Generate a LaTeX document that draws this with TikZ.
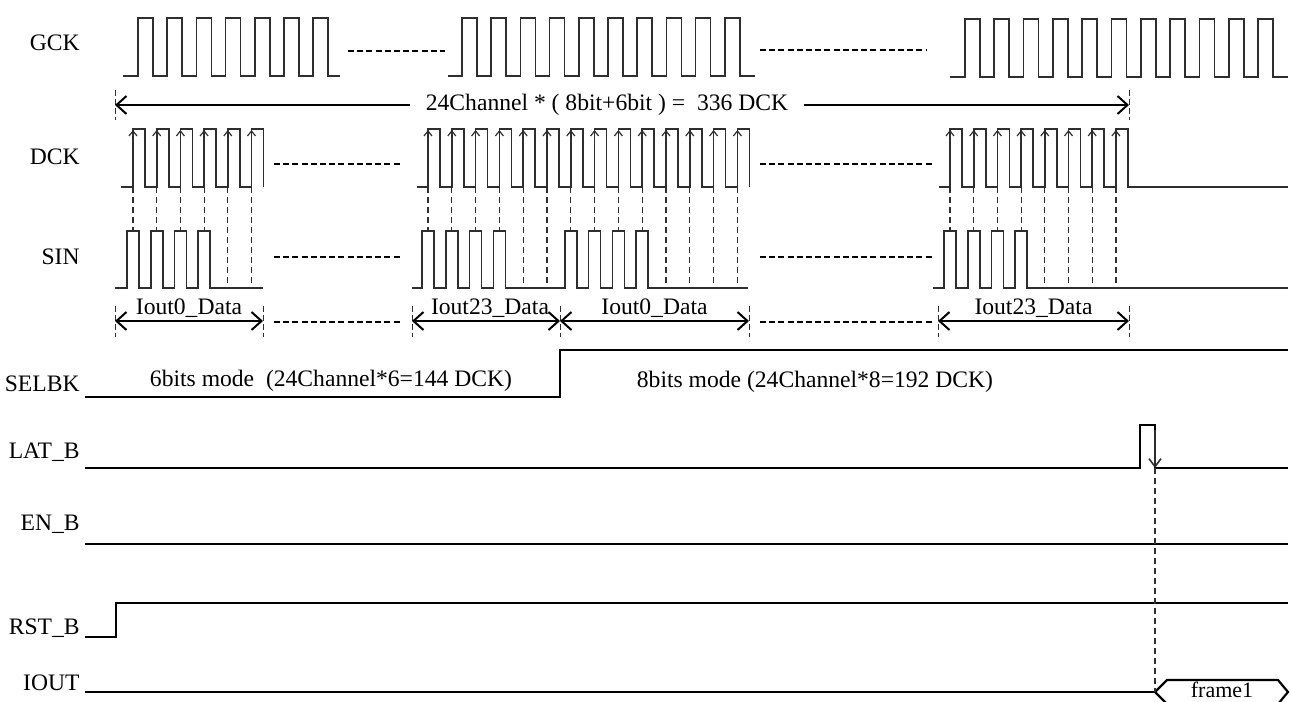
\documentclass[tikz,border=0pt]{standalone}
\usepackage{fontspec}
\setmainfont{Liberation Serif}
\usepackage{tikz}
\usetikzlibrary{arrows.meta}
\definecolor{Wave}{HTML}{2E2E2E}

\tikzset{
        wave/.style={draw=Wave, line width=0.85pt},
        level/.style={draw=black, line width=1.1pt},
        gap/.style={draw=black, line width=0.9pt, dash pattern=on 3pt off 1.6pt},
        sample/.style={draw=Wave, line width=0.6pt, dash pattern=on 3pt off 2pt},
        tick/.style={draw=Wave, line width=0.5pt, dash pattern=on 3pt off 1.5pt},
        span/.style={draw=black, line width=1pt, {Straight Barb[length=5pt,width=9pt]}-{Straight Barb[length=5pt,width=9pt]}},
        rise/.style={draw=Wave, line width=0.6pt, -{Straight Barb[length=2.5pt,width=4pt]}},
        sig/.style={anchor=east, inner sep=0pt, font=\fontsize{11.8}{14}\selectfont},
        txt/.style={inner sep=1pt, font=\fontsize{11.8}{14}\selectfont},
}

\begin{document}
\begin{tikzpicture}[x=0.5pt, y=-0.5pt]
        \useasboundingbox (0,0) rectangle (1292,702);

        % signal names
        \node[sig] (gck) at (80,43) {GCK};
        \node[sig] (dck) at (80,157) {DCK};
        \node[sig] (sin) at (80,257) {SIN};
        \node[sig] (selbk) at (80,384) {SELBK};
        \node[sig] (latb) at (80,452) {LAT\_B};
        \node[sig] (enb) at (80,524) {EN\_B};
        \node[sig] (rstb) at (80,628) {RST\_B};
        \node[sig] (iout) at (80,683) {IOUT};

        % GCK
        \draw[wave] (123,76) \foreach \i in {0,...,6} {-- ({138+29.2*\i},76) -- ++(0,-58) -- ++(15,0) -- ++(0,58)} -- (340,76);
        \draw[wave] (448,76) \foreach \i in {0,...,9} {-- ({462+29.2*\i},76) -- ++(0,-58) -- ++(15,0) -- ++(0,58)} -- (755,76);
        \draw[wave] (950,77) \foreach \i in {0,...,10} {-- ({965+29.3*\i},77) -- ++(0,-58) -- ++(15,0) -- ++(0,58)} -- (1288,77);
        \draw[gap] (348,51) -- (445,51);
        \draw[gap] (760,50) -- (927,50);

        % total length
        \coordinate (tl) at (115,105);
        \coordinate (tr) at (1129,105);
        \draw[tick] (115,90) -- (115,120);
        \draw[tick] (1129,90) -- (1129,120);
        \draw[span] (tl) -- (tr);
        \node[txt, fill=white, inner xsep=8pt] (total) at (607,105) {24Channel * ( 8bit+6bit ) =\ \ 336 DCK};

        % DCK
        \draw[wave] (121,187) \foreach \i in {0,...,5} {-- ({133+23.7*\i},187) -- ++(0,-58) -- ++(12,0) -- ++(0,58)};
        \draw[wave] (417,187) \foreach \i in {0,...,13} {-- ({428+23.8*\i},187) -- ++(0,-58) -- ++(12,0) -- ++(0,58)};
        \draw[wave] (939,187) \foreach \i in {0,...,7} {-- ({950+23.7*\i},187) -- ++(0,-58) -- ++(12,0) -- ++(0,58)} -- (1288,187);
        \foreach \i in {0,...,5} \draw[rise] ({133+23.7*\i},187) -- ++(0,-57);
        \foreach \i in {0,...,13} \draw[rise] ({428+23.8*\i},187) -- ++(0,-57);
        \foreach \i in {0,...,7} \draw[rise] ({950+23.7*\i},187) -- ++(0,-57);
        \draw[gap] (274,164) -- (402,164);
        \draw[gap] (760,164) -- (932,164);

        % SIN
        \draw[wave] (115,288) \foreach \x in {133,156.7,180.4,204.1} {-- (\x-6,288) -- (\x-6,231) -- (\x+6,231) -- (\x+6,288)} -- (263,288);
        \draw[wave] (412,288) \foreach \x in {428,451.8,475.6,499.4,570.8,594.6,618.4,642.2} {-- (\x-6,288) -- (\x-6,231) -- (\x+6,231) -- (\x+6,288)} -- (748,288);
        \draw[wave] (933,288) \foreach \x in {950,973.7,997.4,1021.1} {-- (\x-6,288) -- (\x-6,231) -- (\x+6,231) -- (\x+6,288)} -- (1288,288);
        \draw[gap] (274,257) -- (402,257);
        \draw[gap] (760,257) -- (932,257);

        % sampling edges
        \foreach \x/\y in {133/231,156.7/231,180.4/231,204.1/231,227.8/288,251.5/288} \draw[sample] (\x,187) -- (\x,\y);
        \foreach \x/\y in {428/231,451.8/231,475.6/231,499.4/231,523.2/288,547/288,570.8/231,594.6/231,618.4/231,642.2/231,666/288,689.8/288,713.6/288,737.4/288} \draw[sample] (\x,187) -- (\x,\y);
        \foreach \x/\y in {950/231,973.7/231,997.4/231,1021.1/231,1044.8/288,1068.5/288,1092.2/288,1115.9/288} \draw[sample] (\x,187) -- (\x,\y);

        % data frames
        \foreach \x in {115,263,412,560,749,938,1129} \draw[tick] (\x,306) -- (\x,337);
        \coordinate (a0) at (115,321);
        \coordinate (a1) at (263,321);
        \coordinate (b0) at (412,321);
        \coordinate (b1) at (560,321);
        \coordinate (b2) at (749,321);
        \coordinate (c0) at (938,321);
        \coordinate (c1) at (1129,321);
        \draw[span] (a0) -- node[txt, above] (d0) {Iout0\_Data} (a1);
        \draw[span] (b0) -- node[txt, above, xshift=2pt] (d1) {Iout23\_Data} (b1);
        \draw[span] (b1) -- node[txt, above] (d2) {Iout0\_Data} (b2);
        \draw[span] (c0) -- node[txt, above] (d3) {Iout23\_Data} (c1);
        \draw[gap] (274,322) -- (402,322);
        \draw[gap] (760,322) -- (932,322);

        % SELBK
        \draw[level] (85,397) -- (560,397) -- (560,350) -- (1288,350);
        \node[txt] (six) at (331,381) {6bits mode\ \ (24Channel*6=144 DCK)};
        \node[txt] (eight) at (815,382) {8bits mode (24Channel*8=192 DCK)};

        % LAT_B
        \coordinate (lat) at (1155,468);
        \draw[level] (85,468) -- (1140,468) -- (1140,425) -- (1155,425) -- (1155,448);
        \draw[level] (1155,448) -- (1155,468) -- (1288,468);
        \draw[rise, line width=0.8pt, -{Straight Barb[length=4pt,width=6pt]}] (1155,430) -- (lat);

        % EN_B, RST_B
        \draw[level] (85,544) -- (1288,544);
        \draw[level] (85,637) -- (116,637) -- (116,603) -- (1288,603);

        % IOUT
        \draw[level] (85,692) -- (1155,692);
        \draw[level] (1155,692) -- (1167,680) -- (1278,680) -- (1288,692) -- (1278,704) -- (1167,704) -- cycle;
        \node[txt, font=\fontsize{11}{13}\selectfont] (frame) at (1222,690) {frame1};
        \draw[sample] (lat) -- (1155,692);
\end{tikzpicture}
\end{document}
